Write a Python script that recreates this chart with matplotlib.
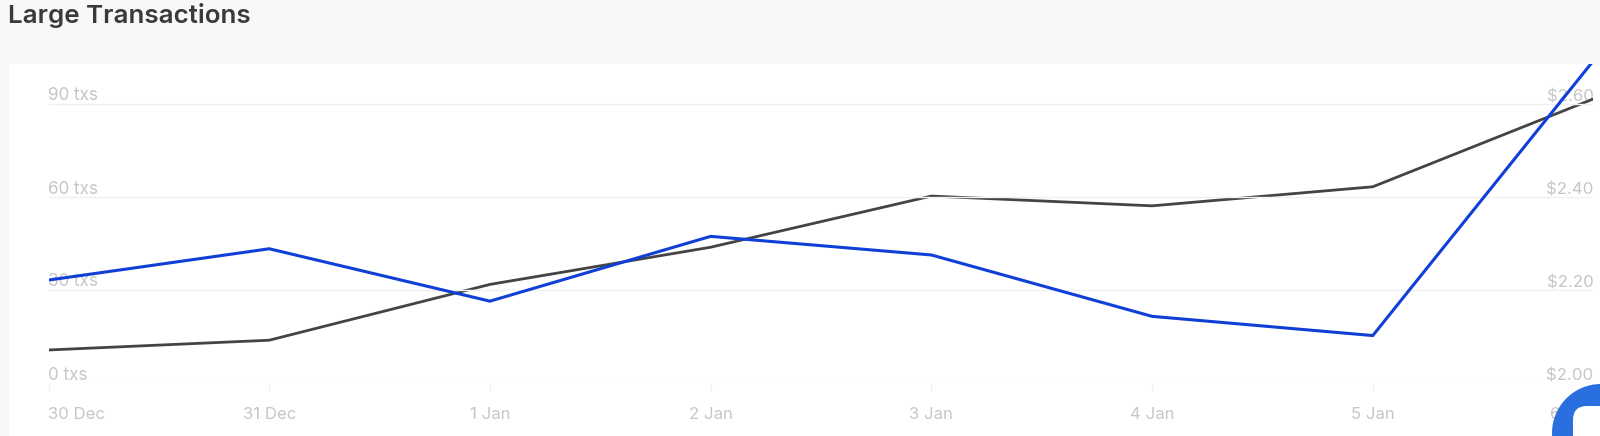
import matplotlib
matplotlib.use("Agg")
import matplotlib.pyplot as plt
from matplotlib.patches import Circle, Rectangle, FancyBboxPatch
from matplotlib.transforms import ScaledTranslation

plt.rcParams['font.family'] = ['Inter', 'DejaVu Sans']

dates = ["30 Dec", "31 Dec", "1 Jan", "2 Jan", "3 Jan", "4 Jan", "5 Jan", "6 Jan"]
large_txs = [33.2, 43.3, 26.4, 47.3, 41.3, 21.5, 15.3, 104]
price = [2.071, 2.092, 2.212, 2.292, 2.402, 2.381, 2.422, 2.611]
tx_ticks = [0, 30, 60, 90]
tx_labels = ["0 txs", "30 txs", "60 txs", "90 txs"]
price_ticks = [2.00, 2.20, 2.40, 2.60]
price_labels = ["$2.00", "$2.20", "$2.40", "$2.60"]

W, H = 1600, 436
fig = plt.figure(figsize=(W / 100, H / 100), dpi=100, facecolor="#f8f8f8")

# white card
fig.add_artist(Rectangle((9 / W, 0), (W - 9) / W, (H - 64) / H, transform=fig.transFigure,
                         facecolor="white", edgecolor="none", zorder=0))

x0, x1, ytop, ybot = 48.5, 1593.5, 64, 383
ax = fig.add_axes([x0 / W, (H - ybot) / H, (x1 - x0) / W, (ybot - ytop) / H])
ax.patch.set_alpha(0)
ymax = (ybot - ytop) / 3.1
ax.set_xlim(0, len(dates) - 1)
ax.set_ylim(0, ymax)
for s in ax.spines.values():
    s.set_visible(False)

grey = "#c6c6c6"

ax.set_yticks(tx_ticks)
ax.set_yticklabels(tx_labels)
ax.yaxis.grid(True, color="#f0f0f0", lw=1)
ax.set_axisbelow(True)
ax.tick_params(axis="y", length=0, pad=0, labelsize=12.3, labelcolor=grey)
for lab in ax.get_yticklabels():
    lab.set_horizontalalignment("left")
    lab.set_verticalalignment("bottom")
    lab.set_transform(ax.get_yaxis_transform() + ScaledTranslation(-1 / 100, -0.5 / 100, fig.dpi_scale_trans))

ax.set_xticks(range(len(dates)))
ax.set_xticklabels(dates)
ax.tick_params(axis="x", length=6, width=1, color="#f0f0f0", pad=11, labelsize=12, labelcolor=grey)
xlabels = ax.get_xticklabels()
xlabels[0].set_ha("left")
xlabels[-1].set_ha("right")

ax2 = ax.twinx()
for s in ax2.spines.values():
    s.set_visible(False)
ax2.patch.set_alpha(0)
ax2.set_ylim(2.0, 2.0 + (ybot - ytop) * 0.6 / 279)
ax2.set_yticks(price_ticks)
ax2.set_yticklabels(price_labels)
ax2.tick_params(axis="y", length=0, pad=0, labelsize=12.1, labelcolor=grey)
for lab in ax2.get_yticklabels():
    lab.set_horizontalalignment("right")
    lab.set_verticalalignment("bottom")
    lab.set_transform(ax2.get_yaxis_transform() + ScaledTranslation(0, -0.5 / 100, fig.dpi_scale_trans))

ax2.plot(range(len(dates)), price, color="#444444", lw=2.0, solid_joinstyle="miter")
ax.set_zorder(2)
ax2.set_zorder(1)
ax.plot(range(len(dates)), large_txs, color="#0f3fd6", lw=2.2, solid_joinstyle="miter")

# chat widget button partly out of frame
fig.add_artist(Circle((1601, H - 433), 49, transform=None, facecolor="#2a6fe0", edgecolor="none", zorder=10))
fig.add_artist(FancyBboxPatch((1573, -20), 60, 50, boxstyle="round,pad=0,rounding_size=14", transform=None,
                              facecolor="white", edgecolor="none", zorder=11))

fig.text(8 / W, (H - 16) / H, "Large Transactions", fontsize=18.7, fontweight="semibold", color="#3a3a3c", va="center", ha="left")

fig.savefig("out.png", dpi=100, facecolor=fig.get_facecolor())
